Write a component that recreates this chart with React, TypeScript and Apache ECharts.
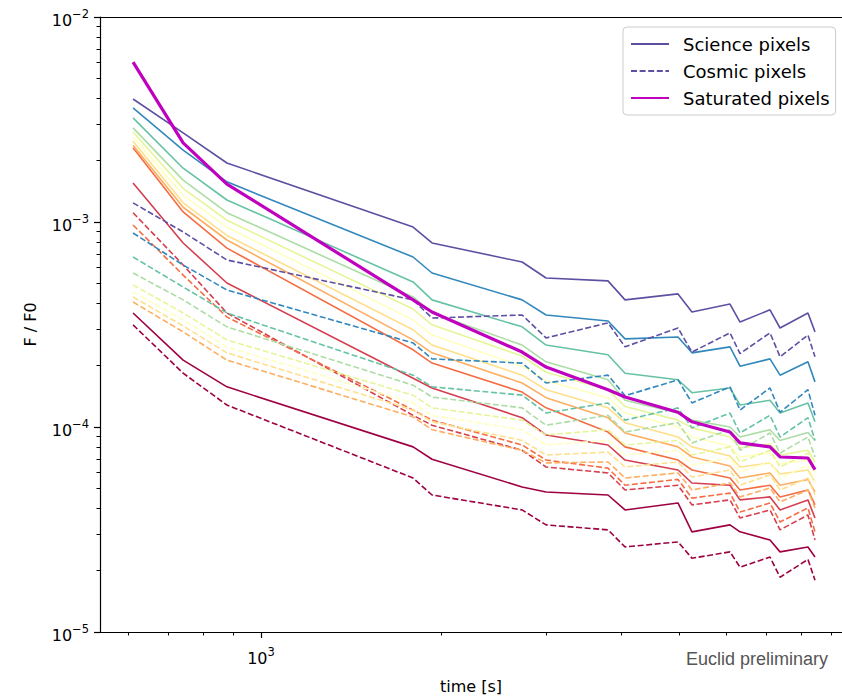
import React, { useEffect, useRef } from 'react';
import * as echarts from 'echarts';

// exposure times [s]
const TIMES = [611, 741, 877, 1796, 1932, 2733, 2997, 3804, 4062, 4981, 5256, 6085, 6324, 7098, 7378, 8215, 8441];

// Spectral colormap, index 0 (dark red) .. 10 (purple)
const COLORS = ['#9e0142', '#d53e4f', '#f46d43', '#fdae61', '#fee08b', '#ffffbf', '#e6f598', '#abdda4', '#66c2a5', '#3288bd', '#5e4fa2'];

// Science pixels (solid)
const SCI_0 = [3.60e-4, 2.12e-4, 1.57e-4, 8.0e-5, 6.96e-5, 5.1e-5, 4.82e-5, 4.66e-5, 3.94e-5, 4.26e-5, 3.08e-5, 3.33e-5, 3.08e-5, 2.81e-5, 2.46e-5, 2.60e-5, 2.32e-5];
const SCI_1 = [1.55e-3, 7.9e-4, 5.04e-4, 1.73e-4, 1.55e-4, 1.11e-4, 9.14e-5, 8.17e-5, 6.9e-5, 6.17e-5, 5.33e-5, 5.2e-5, 4.41e-5, 4.56e-5, 3.94e-5, 4.41e-5, 3.6e-5];
const SCI_2 = [2.30e-3, 1.12e-3, 7.46e-4, 2.38e-4, 2.05e-4, 1.48e-4, 1.24e-4, 9.45e-5, 8.0e-5, 6.9e-5, 6.17e-5, 5.64e-5, 4.93e-5, 5.2e-5, 4.56e-5, 4.93e-5, 4.17e-5];
const SCI_3 = [2.37e-3, 1.18e-3, 8.17e-4, 2.66e-4, 2.30e-4, 1.64e-4, 1.39e-4, 1.11e-4, 9.35e-5, 8.0e-5, 7.14e-5, 6.45e-5, 5.64e-5, 5.97e-5, 5.2e-5, 5.55e-5, 4.82e-5];
const SCI_4 = [2.48e-3, 1.24e-3, 8.6e-4, 2.98e-4, 2.51e-4, 1.79e-4, 1.52e-4, 1.24e-4, 1.05e-4, 8.94e-5, 8.0e-5, 7.22e-5, 6.38e-5, 6.68e-5, 5.9e-5, 6.17e-5, 5.4e-5];
const SCI_5 = [2.60e-3, 1.35e-3, 9.45e-4, 3.33e-4, 2.81e-4, 1.98e-4, 1.68e-4, 1.39e-4, 1.17e-4, 1.00e-4, 8.94e-5, 8.08e-5, 7.14e-5, 7.46e-5, 6.6e-5, 6.9e-5, 6.03e-5];
const SCI_6 = [2.75e-3, 1.46e-3, 1.02e-3, 3.76e-4, 3.15e-4, 2.22e-4, 1.85e-4, 1.52e-4, 1.26e-4, 1.08e-4, 9.9e-5, 8.94e-5, 7.9e-5, 8.26e-5, 7.3e-5, 7.7e-5, 6.75e-5];
const SCI_7 = [2.88e-3, 1.60e-3, 1.11e-3, 4.31e-4, 3.60e-4, 2.51e-4, 2.08e-4, 1.70e-4, 1.35e-4, 1.17e-4, 1.08e-4, 1.00e-4, 8.94e-5, 9.7e-5, 8.6e-5, 9.4e-5, 8.6e-5];
const SCI_8 = [3.22e-3, 1.83e-3, 1.28e-3, 5.10e-4, 4.17e-4, 3.08e-4, 2.51e-4, 2.25e-4, 1.83e-4, 1.70e-4, 1.47e-4, 1.55e-4, 1.28e-4, 1.35e-4, 1.17e-4, 1.31e-4, 1.06e-4];
const SCI_9 = [3.60e-3, 2.24e-3, 1.57e-3, 6.75e-4, 5.64e-4, 4.17e-4, 3.52e-4, 3.29e-4, 2.69e-4, 2.75e-4, 2.30e-4, 2.46e-4, 1.98e-4, 2.15e-4, 1.79e-4, 2.08e-4, 1.66e-4];
const SCI_10 = [3.98e-3, 2.72e-3, 1.94e-3, 9.45e-4, 7.9e-4, 6.38e-4, 5.33e-4, 5.16e-4, 4.17e-4, 4.46e-4, 3.64e-4, 3.98e-4, 3.25e-4, 3.73e-4, 3.04e-4, 3.60e-4, 2.91e-4];

// Cosmic pixels (dashed)
const COS_0 = [3.15e-4, 1.83e-4, 1.28e-4, 5.64e-5, 4.66e-5, 3.94e-5, 3.33e-5, 3.15e-5, 2.60e-5, 2.75e-5, 2.29e-5, 2.46e-5, 2.07e-5, 2.32e-5, 1.85e-5, 2.26e-5, 1.79e-5];
const COS_1 = [1.11e-3, 6.17e-4, 3.60e-4, 1.14e-4, 1.02e-4, 7.7e-5, 6.38e-5, 5.97e-5, 4.93e-5, 5.2e-5, 4.17e-5, 4.41e-5, 3.6e-5, 3.94e-5, 3.15e-5, 3.72e-5, 2.81e-5];
const COS_2 = [9.67e-4, 5.51e-4, 3.44e-4, 1.21e-4, 1.08e-4, 8.17e-5, 6.9e-5, 6.3e-5, 5.2e-5, 5.55e-5, 4.5e-5, 4.76e-5, 3.85e-5, 4.26e-5, 3.44e-5, 4.03e-5, 3.08e-5];
const COS_3 = [4.07e-4, 2.91e-4, 2.12e-4, 1.12e-4, 9.7e-5, 7.7e-5, 6.68e-5, 6.75e-5, 5.64e-5, 5.97e-5, 4.93e-5, 5.33e-5, 4.56e-5, 5.04e-5, 4.31e-5, 4.93e-5, 4.03e-5];
const COS_4 = [4.31e-4, 3.11e-4, 2.30e-4, 1.21e-4, 1.06e-4, 8.6e-5, 7.3e-5, 7.54e-5, 6.38e-5, 6.75e-5, 5.7e-5, 6.17e-5, 5.2e-5, 5.84e-5, 4.93e-5, 5.64e-5, 4.66e-5];
const COS_5 = [4.56e-4, 3.33e-4, 2.46e-4, 1.31e-4, 1.14e-4, 9.7e-5, 8.17e-5, 8.6e-5, 7.3e-5, 7.7e-5, 6.53e-5, 7.06e-5, 6.03e-5, 6.75e-5, 5.64e-5, 6.53e-5, 5.4e-5];
const COS_6 = [4.93e-4, 3.60e-4, 2.66e-4, 1.43e-4, 1.24e-4, 1.08e-4, 9.14e-5, 9.7e-5, 8.17e-5, 8.6e-5, 7.3e-5, 8.0e-5, 6.75e-5, 7.7e-5, 6.38e-5, 7.46e-5, 6.17e-5];
const COS_7 = [5.64e-4, 4.17e-4, 3.08e-4, 1.60e-4, 1.40e-4, 1.24e-4, 1.02e-4, 1.14e-4, 9.45e-5, 1.05e-4, 8.36e-5, 9.7e-5, 7.7e-5, 9.35e-5, 7.46e-5, 8.94e-5, 7.14e-5];
const COS_8 = [6.75e-4, 4.82e-4, 3.60e-4, 1.79e-4, 1.57e-4, 1.43e-4, 1.17e-4, 1.31e-4, 1.08e-4, 1.24e-4, 9.9e-5, 1.17e-4, 9.35e-5, 1.14e-4, 8.94e-5, 1.11e-4, 8.6e-5];
const COS_9 = [8.84e-4, 6.17e-4, 4.66e-4, 2.57e-4, 2.15e-4, 2.05e-4, 1.64e-4, 1.79e-4, 1.42e-4, 1.70e-4, 1.31e-4, 1.57e-4, 1.21e-4, 1.55e-4, 1.18e-4, 1.52e-4, 1.14e-4];
const COS_10 = [1.24e-3, 8.94e-4, 6.53e-4, 4.17e-4, 3.40e-4, 3.52e-4, 2.72e-4, 3.22e-4, 2.46e-4, 3.04e-4, 2.32e-4, 2.88e-4, 2.28e-4, 2.88e-4, 2.20e-4, 2.81e-4, 2.20e-4];

// Saturated pixels (thick magenta)
const SATURATED = [6.03e-3, 2.43e-3, 1.53e-3, 4.17e-4, 3.64e-4, 2.32e-4, 1.96e-4, 1.52e-4, 1.40e-4, 1.18e-4, 1.06e-4, 9.45e-5, 8.36e-5, 8.0e-5, 7.14e-5, 7.06e-5, 6.2e-5];

const SCIENCE = [SCI_0, SCI_1, SCI_2, SCI_3, SCI_4, SCI_5, SCI_6, SCI_7, SCI_8, SCI_9, SCI_10];
const COSMIC = [COS_0, COS_1, COS_2, COS_3, COS_4, COS_5, COS_6, COS_7, COS_8, COS_9, COS_10];

// axes
const X_MIN = 538;
const X_MAX = 9366;
const Y_MIN = 1e-5;
const Y_MAX = 1e-2;
const X_MAJOR = [1000];
const X_MINOR = [600, 700, 800, 900, 2000, 3000, 4000, 5000, 6000, 7000, 8000, 9000];
const Y_MAJOR = [1e-5, 1e-4, 1e-3, 1e-2];
const Y_MINOR = [
  2e-5, 3e-5, 4e-5, 5e-5, 6e-5, 7e-5, 8e-5, 9e-5,
  2e-4, 3e-4, 4e-4, 5e-4, 6e-4, 7e-4, 8e-4, 9e-4,
  2e-3, 3e-3, 4e-3, 5e-3, 6e-3, 7e-3, 8e-3, 9e-3,
];

const FONT = 'DejaVu Sans';

const powLabel = (v: number) => {
  const e = Math.round(v);
  return `{b|10}{s|${e < 0 ? '\u2212' : ''}${Math.abs(e)}}`;
};
const rich = {
  b: { fontSize: 16, fontFamily: FONT, color: '#000', verticalAlign: 'bottom', lineHeight: 22 },
  s: { fontSize: 11.5, fontFamily: FONT, color: '#000', verticalAlign: 'bottom', lineHeight: 14, padding: [0, 0, 8, 0] },
};

export default function App() {
  const ref = useRef<HTMLDivElement>(null);
  useEffect(() => {
    if (!ref.current) return;
    const chart = echarts.init(ref.current, undefined, { renderer: 'svg' });
    const lx0 = Math.log10(X_MIN);
    const lx1 = Math.log10(X_MAX);
    const ly0 = Math.log10(Y_MIN);
    const ly1 = Math.log10(Y_MAX);
    const black = { color: '#000', width: 1.2 };

    const series: any[] = [];
    SCIENCE.forEach((vals, i) => {
      series.push({
        name: i === 10 ? 'Science pixels' : `science ${i}`,
        type: 'line',
        xAxisIndex: 0,
        yAxisIndex: 0,
        symbol: 'none',
        showSymbol: false,
        data: TIMES.map((t, k) => [t, vals[k]]),
        lineStyle: { color: COLORS[i], width: 1.6, type: 'solid' },
        itemStyle: { color: COLORS[i] },
        z: 2,
      });
    });
    COSMIC.forEach((vals, i) => {
      series.push({
        name: i === 10 ? 'Cosmic pixels' : `cosmic ${i}`,
        type: 'line',
        xAxisIndex: 0,
        yAxisIndex: 0,
        symbol: 'none',
        showSymbol: false,
        data: TIMES.map((t, k) => [t, vals[k]]),
        lineStyle: { color: COLORS[i], width: 1.6, type: [6, 2.6] },
        itemStyle: { color: COLORS[i] },
        z: 2,
      });
    });
    series.push({
      name: 'Saturated pixels',
      type: 'line',
      xAxisIndex: 0,
      yAxisIndex: 0,
      symbol: 'none',
      showSymbol: false,
      data: TIMES.map((t, k) => [t, SATURATED[k]]),
      lineStyle: { color: '#bf00bf', width: 3.2 },
      itemStyle: { color: '#bf00bf' },
      z: 3,
    });

    const hidden = { show: false };
    chart.setOption({
      animation: false,
      backgroundColor: '#ffffff',
      grid: { left: 100, right: 0, top: 17, bottom: 65, containLabel: false, outerBoundsMode: 'none' },
      legend: {
        data: ['Science pixels', 'Cosmic pixels', 'Saturated pixels'],
        orient: 'vertical',
        left: 623,
        top: 27,
        itemWidth: 38,
        itemHeight: 14,
        itemGap: 9,
        padding: [8, 6, 8, 7],
        backgroundColor: 'rgba(255,255,255,0.8)',
        borderColor: '#cccccc',
        borderWidth: 1,
        borderRadius: 4,
        selectedMode: false,
        itemStyle: { color: 'rgba(0,0,0,0)', borderColor: 'rgba(0,0,0,0)', borderWidth: 0, opacity: 0 },
        textStyle: { fontFamily: FONT, fontSize: 18, color: '#000', padding: [0, 0, 0, 9] },
      },
      xAxis: [
        {
          type: 'log', min: X_MIN, max: X_MAX, position: 'bottom',
          axisLine: { show: true, onZero: false, lineStyle: black },
          axisTick: hidden, axisLabel: hidden, splitLine: hidden, minorTick: hidden, minorSplitLine: hidden,
          name: 'time [s]', nameLocation: 'middle', nameGap: 46,
          nameTextStyle: { fontFamily: FONT, fontSize: 16, color: '#000' },
        },
        {
          type: 'value', min: lx0, max: lx1, position: 'bottom',
          axisLine: { show: false, onZero: false },
          axisTick: { show: true, length: 3.5, customValues: X_MINOR.map((v) => Math.log10(v)), lineStyle: { color: '#000', width: 1 } },
          axisLabel: hidden, splitLine: hidden,
        },
        {
          type: 'value', min: lx0, max: lx1, position: 'bottom',
          axisLine: { show: false, onZero: false },
          axisTick: { show: true, length: 6, customValues: X_MAJOR.map((v) => Math.log10(v)), lineStyle: { color: '#000', width: 1.2 } },
          axisLabel: { show: true, customValues: X_MAJOR.map((v) => Math.log10(v)), formatter: powLabel, rich, margin: 12 },
          splitLine: hidden,
        },
        {
          type: 'log', min: X_MIN, max: X_MAX, position: 'top',
          axisLine: { show: true, onZero: false, lineStyle: black },
          axisTick: hidden, axisLabel: hidden, splitLine: hidden,
        },
      ],
      yAxis: [
        {
          type: 'log', min: Y_MIN, max: Y_MAX, position: 'left',
          axisLine: { show: true, onZero: false, lineStyle: black },
          axisTick: hidden, axisLabel: hidden, splitLine: hidden, minorTick: hidden, minorSplitLine: hidden,
          name: 'F / F0', nameLocation: 'middle', nameGap: 62,
          nameTextStyle: { fontFamily: FONT, fontSize: 16, color: '#000' },
        },
        {
          type: 'value', min: ly0, max: ly1, position: 'left',
          axisLine: { show: false, onZero: false },
          axisTick: { show: true, length: 3.5, customValues: Y_MINOR.map((v) => Math.log10(v)), lineStyle: { color: '#000', width: 1 } },
          axisLabel: hidden, splitLine: hidden,
        },
        {
          type: 'value', min: ly0, max: ly1, position: 'left',
          axisLine: { show: false, onZero: false },
          axisTick: { show: true, length: 6, customValues: Y_MAJOR.map((v) => Math.log10(v)), lineStyle: { color: '#000', width: 1.2 } },
          axisLabel: { show: true, customValues: Y_MAJOR.map((v) => Math.log10(v)), formatter: powLabel, rich, margin: 11 },
          splitLine: hidden,
        },
      ],
      graphic: [
        {
          type: 'text',
          right: 14,
          top: 650,
          style: { text: 'Euclid preliminary', fontFamily: 'Liberation Sans', fontSize: 18, fill: '#555555' },
        },
      ],
      series,
    });
    return () => chart.dispose();
  }, []);
  return <div ref={ref} style={{ position: 'fixed', left: 0, top: 0, width: 842, height: 697, background: '#fff' }} />;
}
